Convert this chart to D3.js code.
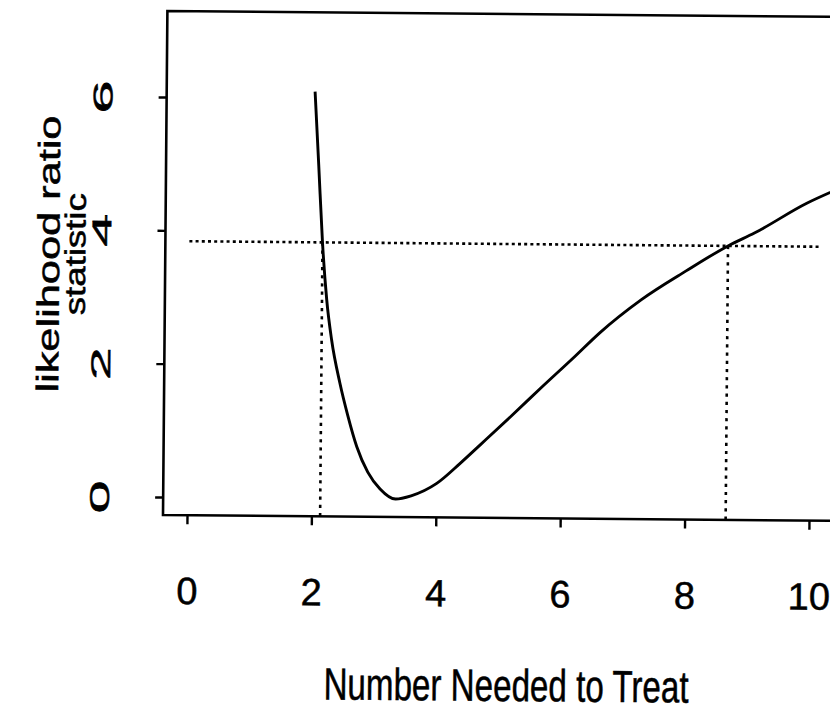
<!DOCTYPE html>
<html>
<head>
<meta charset="utf-8">
<script src="https://cdn.jsdelivr.net/npm/d3@7"></script>
<style>
  body { margin: 0; background: #fff; }
  svg { display: block; }
  text { font-family: "Liberation Sans", Arial, Helvetica, sans-serif; fill: #000; stroke: #000; stroke-width: 0.5px; }
</style>
</head>
<body>
<svg id="chart" width="830" height="718"></svg>
<script>
// Likelihood ratio statistic as a function of the number needed to treat
const nntValues   = [2.0, 2.07, 2.14, 2.216, 2.30, 2.44, 2.57, 2.72, 2.90, 3.10, 3.35, 3.6, 4.01, 4.38, 4.7, 5.2, 5.7, 6.2, 6.61, 7.27, 7.99, 8.66, 9.09, 9.92, 10.45];
const lrStatistic = [6.1, 4.98, 3.84, 2.98, 2.38, 1.73, 1.25, 0.78, 0.40, 0.15, 0.0, 0.05, 0.24, 0.54, 0.82, 1.26, 1.71, 2.15, 2.52, 3.02, 3.46, 3.84, 4.04, 4.49, 4.72];

// 95% cut-off (chi-square, 1 df) and the interval it gives
const cutoff = 3.84;
const cutoffSpan = [0, 10.15];
const ciLimits = [2.14, 8.66];

const xTicks = [0, 2, 4, 6, 8, 10];
const yTicks = [0, 2, 4, 6];
const xTitle = "Number Needed to Treat";
const yTitleLines = ["likelihood ratio", "statistic"];

const svg = d3.select("#chart");

// plot region
const frameLeft = 163, frameBottom = 515, frameTop = 11, frameRight = 900;
const x = d3.scaleLinear().domain([0, 10]).range([187, 809]);
const y = d3.scaleLinear().domain([0, 6]).range([497, 97]);
const yFloor = y.invert(frameBottom);

// the whole figure sits slightly tilted
const g = svg.append("g").attr("transform", `rotate(0.5, ${frameLeft}, ${frameBottom})`);

// frame (left, top, bottom edges)
g.append("path")
  .attr("d", `M${frameRight},${frameTop}H${frameLeft}V${frameBottom}H${frameRight}`)
  .attr("fill", "none").attr("stroke", "#000").attr("stroke-width", 2.6);

// x axis
const xAxis = g.append("g").attr("transform", `translate(0,${frameBottom})`)
  .call(d3.axisBottom(x).tickValues(xTicks).tickFormat(d3.format("d")).tickSize(9).tickPadding(53));
xAxis.select(".domain").remove();
xAxis.selectAll(".tick line").attr("stroke", "#000").attr("stroke-width", 2.4);
xAxis.selectAll(".tick text").attr("font-size", 38).attr("font-family", null);

// y axis, labels parallel to the axis (wide lettering)
const yAxis = g.append("g").attr("transform", `translate(${frameLeft},0)`)
  .call(d3.axisLeft(y).tickValues(yTicks).tickFormat(d3.format("d")).tickSize(8));
yAxis.select(".domain").remove();
yAxis.selectAll(".tick line").attr("stroke", "#000").attr("stroke-width", 2.4);
yAxis.selectAll(".tick text")
  .attr("font-size", 27).attr("font-family", null)
  .attr("x", null)
  .attr("text-anchor", "middle")
  .attr("textLength", 33)
  .attr("lengthAdjust", "spacingAndGlyphs")
  .attr("transform", "translate(-64,0) rotate(-90)")
  .attr("dy", "0.36em");

// x axis title (narrow lettering)
g.append("text")
  .attr("x", 325).attr("y", 698)
  .attr("text-anchor", "start")
  .attr("font-size", 45)
  .attr("textLength", 365)
  .attr("lengthAdjust", "spacingAndGlyphs")
  .text(xTitle);

// y axis title, two lines
const yTitleSize = [31, 29];
const yTitleLength = [277, 122];
const yTitleBase = [57, 83];
yTitleLines.forEach((t, i) => {
  g.append("text")
    .attr("transform", `translate(${yTitleBase[i]},255) rotate(-90)`)
    .attr("text-anchor", "middle")
    .attr("font-size", yTitleSize[i])
    .attr("textLength", yTitleLength[i])
    .attr("lengthAdjust", "spacingAndGlyphs")
    .text(t);
});

// cut-off line and interval limits
const dotted = { stroke: "#000", "stroke-width": 2.6, "stroke-dasharray": "3,3.2", fill: "none" };
const applyStyle = (sel, s) => { Object.entries(s).forEach(([k, v]) => sel.attr(k, v)); return sel; };

applyStyle(g.append("line")
  .attr("x1", x(cutoffSpan[0])).attr("x2", x(cutoffSpan[1]))
  .attr("y1", y(cutoff)).attr("y2", y(cutoff)), dotted);

ciLimits.forEach(v => {
  applyStyle(g.append("line")
    .attr("x1", x(v)).attr("x2", x(v))
    .attr("y1", y(cutoff)).attr("y2", y(yFloor)), dotted)
    .attr("stroke-dasharray", "3.2,5");
});

// likelihood ratio curve
const pts = nntValues.map((v, i) => [v, lrStatistic[i]]);
g.append("path")
  .datum(pts)
  .attr("fill", "none")
  .attr("stroke", "#000")
  .attr("stroke-width", 2.9)
  .attr("d", d3.line().x(d => x(d[0])).y(d => y(d[1])).curve(d3.curveMonotoneX));
</script>
</body>
</html>
